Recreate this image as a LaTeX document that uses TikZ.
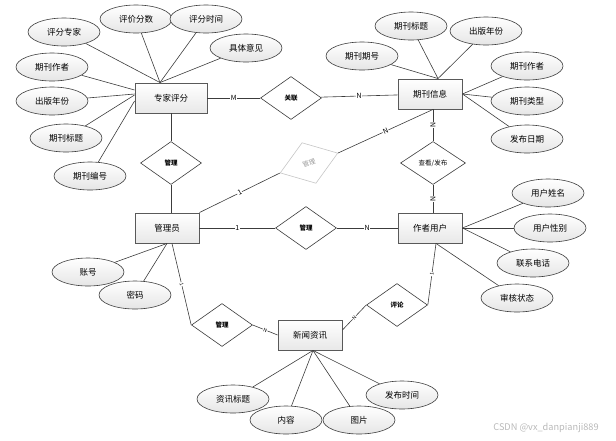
\documentclass[tikz,border=0pt]{standalone}
\usepackage{fontspec}
\setmainfont{Noto Sans CJK SC}
\usepackage{tikz}
\usetikzlibrary{shapes.geometric,shadows}
\definecolor{linegray}{RGB}{60,60,60}

\begin{document}
\begin{tikzpicture}[
    x=1pt, y=-1pt,
    entity/.style={rectangle, draw=gray!70!black, line width=0.9pt, top color=white, bottom color=gray!18, minimum width=64pt, minimum height=30pt, font=\fontsize{8.5}{10}\selectfont, drop shadow={shadow xshift=1pt, shadow yshift=-1pt, fill=gray!40, opacity=0.6}},
    attr/.style={ellipse, draw=linegray, line width=0.6pt, top color=white, bottom color=gray!20, minimum width=72pt, minimum height=28pt, inner sep=0pt, font=\fontsize{8.5}{10}\selectfont},
    rel/.style={diamond, draw=linegray, line width=0.6pt, fill=white, minimum width=61pt, minimum height=43pt, inner sep=0pt, font=\fontsize{6.5}{7}\selectfont\bfseries},
    link/.style={draw=linegray, line width=0.6pt},
    lbl/.style={fill=white, inner sep=0.6pt, font=\fontsize{7}{8}\selectfont, sloped}
]
\useasboundingbox (0,0) rectangle (616,440);

% entities
\node[entity, minimum width=72pt] (review) at (171,98) {专家评分};
\node[entity] (journal) at (430,94) {期刊信息};
\node[entity] (admin) at (167,228) {管理员};
\node[entity] (author) at (430,228) {作者用户};
\node[entity] (news) at (310,335) {新闻资讯};

% relations
\node[rel] (assoc) at (291,98) {关联};
\node[rel] (manage1) at (171,163) {管理};
\node[rel, rotate=19, draw=gray!45, text=gray!80, font=\fontsize{6.5}{7}\selectfont] (manage2) at (309,163) {管理};
\node[rel, minimum width=65pt, font=\fontsize{6.5}{7}\selectfont] (view) at (433,163) {查看/发布};
\node[rel] (manage3) at (306,228) {管理};
\node[rel] (manage4) at (222,325) {管理};
\node[rel] (comment) at (397,305) {评论};

% attributes
\node[attr] (rexpert) at (64,32) {评分专家};
\node[attr] (rscore) at (136,19) {评价分数};
\node[attr] (rtime) at (206,19) {评分时间};
\node[attr] (rcomment) at (246,48) {具体意见};
\node[attr] (rauthor) at (52,67) {期刊作者};
\node[attr] (ryear) at (52,101) {出版年份};
\node[attr] (rtitle) at (66,138) {期刊标题};
\node[attr] (rno) at (90,176) {期刊编号};

\node[attr] (jtitle) at (411,26) {期刊标题};
\node[attr] (jyear) at (486,31) {出版年份};
\node[attr] (jissue) at (362,56) {期刊期号};
\node[attr] (jauthor) at (527,66) {期刊作者};
\node[attr] (jtype) at (527,101) {期刊类型};
\node[attr] (jdate) at (527,139) {发布日期};

\node[attr] (uname) at (548,193) {用户姓名};
\node[attr] (usex) at (550,228) {用户性别};
\node[attr] (uphone) at (533,263) {联系电话};
\node[attr] (ustatus) at (517,298) {审核状态};

\node[attr] (acct) at (88,272) {账号};
\node[attr] (pwd) at (135,295) {密码};

\node[attr] (ntitle) at (233,399) {资讯标题};
\node[attr] (ncontent) at (286,420) {内容};
\node[attr] (npic) at (359,420) {图片};
\node[attr] (ntime) at (402,395) {发布时间};

\node[text=gray!55, font=\fontsize{9.2}{10}\selectfont] (mark) at (546,428) {CSDN @vx\_danpianji889};

% relation links
\draw[link] (review) -- node[lbl]{M} (assoc);
\draw[link] (assoc) -- node[lbl]{N} (journal);
\draw[link] (review) -- (manage1);
\draw[link] (manage1) -- (manage1 |- admin.north);
\draw[link] (admin.north east) -- node[lbl]{1} (manage2.west);
\draw[link] (manage2.east) -- node[lbl]{N} ([xshift=3pt]journal.south);
\draw[link] (journal.south -| view) -- node[lbl]{N} (view);
\draw[link] (view) -- node[lbl]{N} (view |- author.north);
\draw[link] (admin) -- node[lbl]{1} (manage3);
\draw[link] (manage3) -- node[lbl]{N} (author);
\draw[link] ([xshift=5pt]admin.south) -- node[lbl, font=\fontsize{5}{5}\selectfont]{1} (manage4.west);
\draw[link] (manage4.east) -- node[lbl, font=\fontsize{5}{5}\selectfont]{N} (news.west);
\draw[link] ([yshift=5pt]news.east) -- node[lbl, font=\fontsize{5}{5}\selectfont]{N} (comment.west);
\draw[link] (comment.east) -- node[lbl, font=\fontsize{5}{5}\selectfont]{1} ([xshift=6pt]author.south);

% attribute links
\draw[link] (rexpert) -- ([xshift=-11pt]review.north);
\draw[link] (rscore) -- ([xshift=-11pt]review.north);
\draw[link] (rtime) -- ([xshift=-11pt]review.north);
\draw[link] (rcomment) -- ([xshift=-11pt]review.north);
\draw[link] (rauthor) -- ([yshift=8pt]review.west);
\draw[link] (ryear) -- ([yshift=4pt]review.west);
\draw[link] (rtitle) -- ([yshift=3pt]review.west);
\draw[link] (rno) -- ([yshift=-3pt]review.west);

\draw[link] (jtitle) -- ([xshift=8pt]journal.north);
\draw[link] (jyear) -- ([xshift=8pt]journal.north);
\draw[link] (jissue) -- ([xshift=8pt]journal.north);
\draw[link] (jauthor) -- (journal.east);
\draw[link] (jtype) -- (journal.east);
\draw[link] (jdate) -- (journal.east);

\draw[link] (uname) -- (author.east);
\draw[link] (usex) -- (author.east);
\draw[link] (uphone) -- (author.east);
\draw[link] (ustatus) -- ([xshift=6pt]author.south);

\draw[link] (acct) -- (admin.south);
\draw[link] (pwd) -- (admin.south);

\draw[link] (ntitle) -- ([xshift=3pt]news.south);
\draw[link] (ncontent) -- ([xshift=3pt]news.south);
\draw[link] (npic) -- ([xshift=3pt]news.south);
\draw[link] (ntime) -- ([xshift=3pt]news.south);
\end{tikzpicture}
\end{document}
